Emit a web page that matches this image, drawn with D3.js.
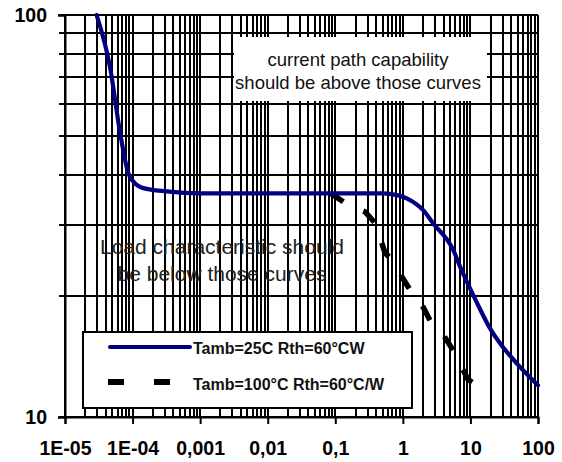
<!DOCTYPE html>
<html>
<head>
<meta charset="utf-8">
<script src="https://cdn.jsdelivr.net/npm/d3@7/dist/d3.min.js"></script>
<style>
  html, body { margin: 0; padding: 0; background: #fff; }
  svg { display: block; font-family: "Liberation Sans", Arial, sans-serif; }
</style>
</head>
<body>
<svg id="chart" width="562" height="462"></svg>
<script>
// ---- data ----
const xTickValues = [1e-5, 1e-4, 1e-3, 1e-2, 1e-1, 1, 10, 100];
const xTickLabels = ["1E-05", "1E-04", "0,001", "0,01", "0,1", "1", "10", "100"];
const yTickValues = [10, 100];
const yTickLabels = ["10", "100"];

const series25Name = "Tamb=25C Rth=60°CW";
const series25X = [2.94e-5, 4.63e-5, 6.54e-5, 8.65e-5, 1.03e-4, 1.44e-4, 3.2e-4, 1e-3, 0.01, 0.1, 0.5, 0.714, 1.14, 2.0, 2.82, 5.58, 7.01, 12, 20, 27.4, 48.4, 100];
const series25Y = [100, 74.3, 50.9, 40.4, 38.5, 37.1, 36.4, 36.0, 36.0, 36.0, 36.0, 35.8, 35.0, 32.7, 30.3, 26.0, 23.7, 19.5, 16.5, 15.25, 13.6, 12.0];

const series100Name = "Tamb=100°C Rth=60°C/W";
const series100X = [0.0836, 0.139, 0.275, 0.387, 0.545, 0.766, 0.97, 1.28, 1.92, 2.52, 3.8, 5.91, 9.2, 18.2];
const series100Y = [36.1, 34.1, 32.4, 30.4, 25.6, 24.2, 22.3, 20.7, 19.0, 17.4, 16.2, 14.4, 12.4, 11.5];

const noteTop = ["current path capability", "should be above those curves"];
const noteLoad = ["Load characteristic should", "be below those curves"];

// ---- layout ----
const svg = d3.select("#chart");
const L = 65, R = 538, T = 15, B = 417;
const x = d3.scaleLog().domain([1e-5, 100]).range([L, R]);
const y = d3.scaleLog().domain([10, 100]).range([B, T]);

svg.append("rect").attr("width", 562).attr("height", 462).attr("fill", "#fff");

// gridlines
const gx = x.ticks(20);
const gy = y.ticks(20);
svg.append("g").selectAll("line").data(gx).join("line")
  .attr("x1", d => Math.round(x(d))).attr("x2", d => Math.round(x(d)))
  .attr("y1", T).attr("y2", B)
  .attr("stroke", "#000").attr("stroke-width", 2);
svg.append("g").selectAll("line").data(gy).join("line")
  .attr("x1", L - 6).attr("x2", R)
  .attr("y1", d => Math.round(y(d))).attr("y2", d => Math.round(y(d)))
  .attr("stroke", "#000").attr("stroke-width", 2);

// axes
const xAxis = d3.axisBottom(x).tickValues(xTickValues)
  .tickFormat((d, i) => xTickLabels[i]).tickSize(7).tickPadding(17);
const gX = svg.append("g").attr("transform", `translate(0,${B})`).call(xAxis);
gX.select(".domain").attr("stroke", "#000").attr("stroke-width", 2);
gX.selectAll(".tick line").attr("stroke", "#000").attr("stroke-width", 2);
gX.selectAll(".tick text").attr("font-size", 19.5).attr("font-weight", "bold")
  .attr("fill", "#000").attr("font-family", "Liberation Sans, Arial, sans-serif");

const yAxis = d3.axisLeft(y).tickValues(yTickValues)
  .tickFormat((d, i) => yTickLabels[i]).tickSize(7).tickPadding(11);
const gY = svg.append("g").attr("transform", `translate(${L},0)`).call(yAxis);
gY.select(".domain").attr("stroke", "#000").attr("stroke-width", 2);
gY.selectAll(".tick line").attr("stroke", "#000").attr("stroke-width", 2);
gY.selectAll(".tick text").attr("font-size", 19.5).attr("font-weight", "bold")
  .attr("fill", "#000").attr("font-family", "Liberation Sans, Arial, sans-serif");

// note box top
svg.append("rect").attr("x", 234).attr("y", 37).attr("width", 253).attr("height", 64).attr("fill", "#fff");
svg.append("g").selectAll("text").data(noteTop).join("text")
  .attr("x", 358).attr("y", (d, i) => 66 + i * 23)
  .attr("text-anchor", "middle").attr("font-size", 18.5).attr("fill", "#111")
  .text(d => d);

// load note
svg.append("g").selectAll("text").data(noteLoad).join("text")
  .attr("x", 222).attr("y", (d, i) => 254 + i * 26.5)
  .attr("text-anchor", "middle").attr("font-size", 21).attr("fill", "#222")
  .text(d => d);

// curves
const line = d3.line().x(d => x(d[0])).y(d => y(d[1])).curve(d3.curveMonotoneX);
const d100 = series100X.map((v, i) => [v, series100Y[i]]);
const d25 = series25X.map((v, i) => [v, series25Y[i]]);

svg.append("path").datum(d100).attr("d", d3.line().x(d => x(d[0])).y(d => y(d[1])))
  .attr("fill", "none").attr("stroke", "#000").attr("stroke-width", 5.5)
  .attr("stroke-dasharray", "16,22");
svg.append("path").datum(d25).attr("d", line)
  .attr("fill", "none").attr("stroke", "#000080").attr("stroke-width", 4.2)
  .attr("stroke-linejoin", "round").attr("stroke-linecap", "round");

// legend
const lg = svg.append("g");
lg.append("rect").attr("x", 83).attr("y", 332).attr("width", 329).attr("height", 76)
  .attr("fill", "#fff").attr("stroke", "#000").attr("stroke-width", 2);
lg.append("line").attr("x1", 110).attr("x2", 190).attr("y1", 347).attr("y2", 347)
  .attr("stroke", "#000080").attr("stroke-width", 4).attr("stroke-linecap", "round");
lg.append("text").attr("x", 193).attr("y", 354).attr("font-size", 16).attr("font-weight", "bold")
  .attr("fill", "#111").text(series25Name);
lg.append("line").attr("x1", 108).attr("x2", 170).attr("y1", 382).attr("y2", 382)
  .attr("stroke", "#000").attr("stroke-width", 6).attr("stroke-dasharray", "16,30");
lg.append("text").attr("x", 193).attr("y", 390).attr("font-size", 16).attr("font-weight", "bold")
  .attr("fill", "#111").text(series100Name);
</script>
</body>
</html>
